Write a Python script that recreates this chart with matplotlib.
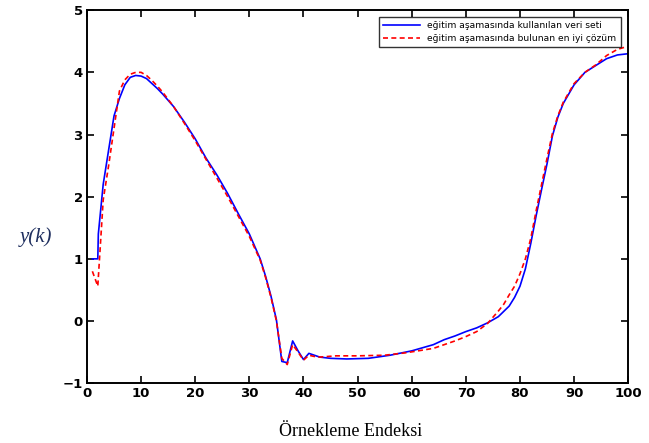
import matplotlib
matplotlib.use("Agg")
import matplotlib.pyplot as plt

# training data (blue)
xb = [1, 2, 2.1, 3, 4, 5, 6, 7, 8, 9, 10, 11, 12, 13, 14, 15, 16, 18, 20, 22, 24,
      26, 28, 30, 32, 33, 34, 35, 36, 37, 38, 39, 40, 41, 42, 43, 45, 48, 52, 56,
      60, 64, 66, 68, 70, 72, 74, 76, 78, 79, 80, 81, 82, 83, 84, 85, 86, 87, 88,
      90, 92, 94, 96, 98, 100]
yb = [1.0, 1.0, 1.4, 2.2, 2.75, 3.3, 3.58, 3.8, 3.92, 3.95, 3.94, 3.9, 3.82, 3.74,
      3.65, 3.55, 3.45, 3.2, 2.93, 2.62, 2.35, 2.05, 1.72, 1.4, 1.0, 0.72, 0.4, 0.02,
      -0.65, -0.67, -0.32, -0.48, -0.62, -0.52, -0.55, -0.58, -0.6, -0.61, -0.6,
      -0.55, -0.48, -0.38, -0.3, -0.24, -0.17, -0.11, -0.03, 0.07, 0.24, 0.38, 0.56,
      0.84, 1.25, 1.7, 2.12, 2.53, 2.98, 3.28, 3.5, 3.8, 4.0, 4.11, 4.22, 4.28, 4.3]

# best solution found (red)
xr = [1, 2, 3, 4, 5, 6, 7, 8, 9, 10, 11, 12, 13, 14, 16, 18, 20, 22, 24, 26, 28,
      30, 32, 33, 34, 35, 36, 37, 38, 39, 40, 41, 42, 43, 46, 50, 55, 59, 64, 68,
      70, 72, 74, 76, 77, 78, 79, 80, 81, 82, 83, 84, 85, 86, 87, 88, 90, 92, 94,
      96, 98, 100]
yr = [0.8, 0.56, 1.95, 2.5, 3.1, 3.7, 3.88, 3.97, 4.0, 4.0, 3.95, 3.87, 3.78, 3.68,
      3.45, 3.18, 2.9, 2.6, 2.3, 2.0, 1.68, 1.36, 0.98, 0.7, 0.38, 0.0, -0.6, -0.7,
      -0.38, -0.5, -0.63, -0.55, -0.57, -0.58, -0.56, -0.56, -0.55, -0.51, -0.44,
      -0.32, -0.25, -0.17, -0.04, 0.16, 0.27, 0.42, 0.56, 0.76, 1.0, 1.33, 1.78, 2.2,
      2.62, 3.02, 3.3, 3.52, 3.82, 4.0, 4.12, 4.27, 4.37, 4.42]

xticks = [0, 10, 20, 30, 40, 50, 60, 70, 80, 90, 100]
yticks = [-1, 0, 1, 2, 3, 4, 5]

fig = plt.figure(figsize=(6.49, 4.43), dpi=100)
ax = fig.add_axes([0.134, 0.135, 0.834, 0.842])

ax.plot(xb, yb, color="#0000ff", lw=1.2, label="eğitim aşamasında kullanılan veri seti")
ax.plot(xr, yr, color="#ff0000", lw=1.2, ls=(0, (3, 2)), label="eğitim aşamasında bulunan en iyi çözüm")

ax.set_xlim(0, 100)
ax.set_ylim(-1, 5)
ax.set_xticks(xticks)
ax.set_yticks(yticks)
ax.tick_params(direction="in", top=True, right=True, length=5, width=1.2,
               labelsize=9.5, pad=3)
for lab in ax.get_xticklabels() + ax.get_yticklabels():
    lab.set_fontweight("bold")
    lab.set_family("Liberation Sans Narrow")
for s in ax.spines.values():
    s.set_linewidth(1.4)

leg = ax.legend(loc="upper right", fontsize=6.6, frameon=True, fancybox=False,
                edgecolor="black", handlelength=4, borderpad=0.5,
                labelspacing=0.4, bbox_to_anchor=(0.995, 0.995))
leg.get_frame().set_linewidth(1.0)

fig.text(0.055, 0.465, "y(k)", family="Liberation Serif", style="italic",
         fontsize=15, color="#1f2f5f", ha="center", va="center")
fig.text(0.54, 0.025, "Örnekleme Endeksi", family="Liberation Serif",
         fontsize=13, ha="center", va="center")

fig.savefig("out.png", dpi=100)
